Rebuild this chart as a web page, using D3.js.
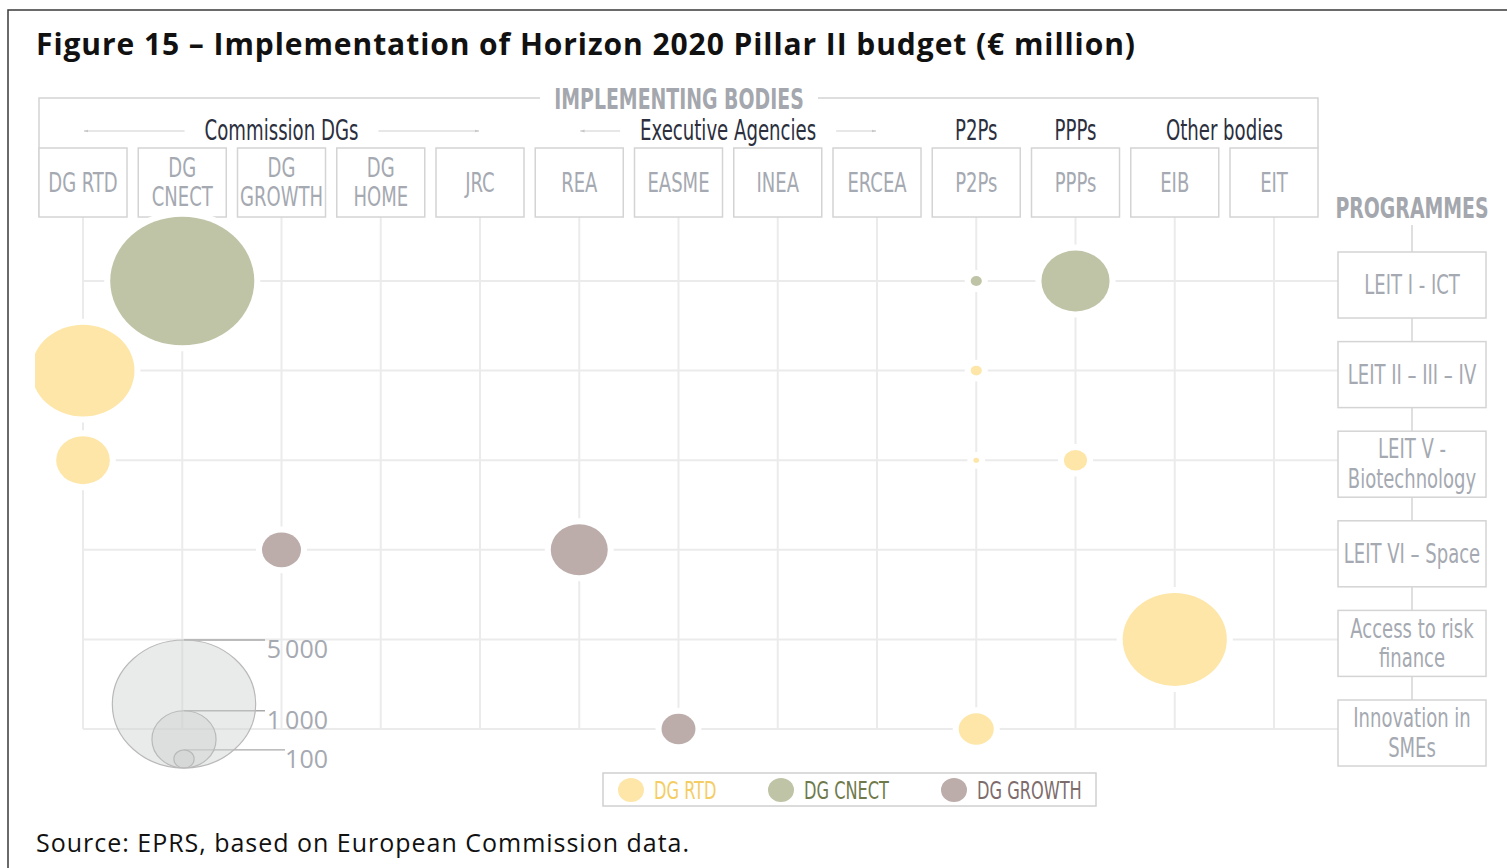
<!DOCTYPE html>
<html>
<head>
<meta charset="utf-8">
<script src="https://cdn.jsdelivr.net/npm/d3@7"></script>
<style>
  body { margin: 0; background: #fff; }
  svg { display: block; }
</style>
</head>
<body>
<svg id="chart" width="1507" height="868"></svg>
<script>
/* Horizon 2020 Pillar II budget by programme and implementing body */

// column headers (implementing bodies)
var bodies = [["DG RTD"], ["DG", "CNECT"], ["DG", "GROWTH"], ["DG", "HOME"], ["JRC"],
    ["REA"], ["EASME"], ["INEA"], ["ERCEA"], ["P2Ps"], ["PPPs"], ["EIB"], ["EIT"]];
var groupNames = ["Commission DGs", "Executive Agencies", "P2Ps", "PPPs", "Other bodies"];
var groupFirst = [0, 5, 9, 10, 11];
var groupLast = [4, 8, 9, 10, 12];

// row headers (programmes)
var programmes = [["LEIT I - ICT"], ["LEIT II \u2013 III \u2013 IV"], ["LEIT V -", "Biotechnology"],
    ["LEIT VI \u2013 Space"], ["Access to risk", "finance"], ["Innovation in", "SMEs"]];

// bubbles: programme row, body column, managing DG, € million
var budgetRow   = [0, 0, 0, 1, 1, 2, 2, 2, 3, 3, 4, 5, 5];
var budgetCol   = [1, 9, 10, 0, 9, 0, 9, 10, 2, 5, 11, 6, 9];
var budgetDG    = ["DG CNECT", "DG CNECT", "DG CNECT", "DG RTD", "DG RTD", "DG RTD", "DG RTD",
                   "DG RTD", "DG GROWTH", "DG GROWTH", "DG RTD", "DG GROWTH", "DG RTD"];
var budgetValue = [5050, 30, 1130, 2580, 30, 700, 8, 130, 370, 790, 2640, 280, 300];

var dgNames = ["DG RTD", "DG CNECT", "DG GROWTH"];
var sizeLegend = [5000, 1000, 100];

var dgFill = {"DG RTD": "#fde6a8", "DG CNECT": "#bfc4a6", "DG GROWTH": "#bcadab"};
var dgText = {"DG RTD": "#f4cd63", "DG CNECT": "#6f7a4c", "DG GROWTH": "#7d6c6c"};

var width = 1507, height = 868;
var condensed = "'Liberation Sans Narrow', 'DejaVu Sans Condensed', Roboto, sans-serif";
var sx = 0.72;          // horizontal squeeze to mimic a condensed face
var boxGrey = "#a5a9b1";
var lineGrey = "#ebebeb";
var boxStroke = "#d4d4d4";

var svg = d3.select("#chart");
svg.append("rect").attr("width", width).attr("height", height).attr("fill", "#fff");

var x = d3.scalePoint().domain(d3.range(bodies.length)).range([83, 1274]);
var y = d3.scalePoint().domain(d3.range(programmes.length)).range([281, 729]);
var r = d3.scaleSqrt().domain([0, 5000]).range([0, 64]);
var stretch = 1.12;     // bubbles are slightly wider than tall in the source

function condText(g, cx, cy, str, size, fill, weight, anchor, squeeze) {
    return g.append("text")
        .attr("transform", "translate(" + cx + "," + cy + ") scale(" + (squeeze || sx) + ",1)")
        .attr("text-anchor", anchor || "middle")
        .attr("font-family", condensed)
        .attr("font-size", size)
        .attr("font-weight", weight || "normal")
        .attr("fill", fill)
        .text(str);
}

// stretch a line of text to the width it has in the source
function fitWidth(sel, w) {
    var len = sel.node().getComputedTextLength();
    if (len < w) sel.attr("textLength", w).attr("lengthAdjust", "spacing");
    return sel;
}

// frame
svg.append("path")
    .attr("d", "M8," + height + "V10H" + width)
    .attr("fill", "none").attr("stroke", "#3a3a3a").attr("stroke-width", 1.5);

// title
fitWidth(svg.append("text")
    .attr("x", 36).attr("y", 55)
    .attr("font-family", "'Open Sans', sans-serif")
    .attr("font-size", 30).attr("font-weight", "bold")
    .attr("fill", "#111")
    .text("Figure 15 \u2013 Implementation of Horizon 2020 Pillar II budget (\u20ac million)"), 1099);

// source
fitWidth(svg.append("text")
    .attr("x", 36).attr("y", 852)
    .attr("font-family", "'Open Sans', sans-serif")
    .attr("font-size", 25)
    .attr("fill", "#111")
    .text("Source: EPRS, based on European Commission data."), 653);

/* grid */
var grid = svg.append("g");
var boxW = 88, boxTop = 148, boxBottom = 217;
var progLeft = 1338, progW = 148, progH = 66;
var cellFont = 26, cellSqueeze = 0.77, cellLead = 29.5;

grid.selectAll("line.v")
    .data(d3.range(bodies.length))
    .join("line")
    .attr("x1", d => x(d)).attr("x2", d => x(d))
    .attr("y1", boxBottom).attr("y2", y(programmes.length - 1))
    .attr("stroke", lineGrey).attr("stroke-width", 2);

grid.selectAll("line.h")
    .data(d3.range(programmes.length))
    .join("line")
    .attr("x1", x(0)).attr("x2", progLeft)
    .attr("y1", d => y(d)).attr("y2", d => y(d))
    .attr("stroke", lineGrey).attr("stroke-width", 2);

/* header: implementing bodies */
var head = svg.append("g");
head.append("path")
    .attr("d", "M540,98H39V" + boxBottom + "M818,98H1318V" + boxTop)
    .attr("fill", "none").attr("stroke", boxStroke).attr("stroke-width", 1.5);
condText(svg, 679, 109, "IMPLEMENTING BODIES", 28, "#a4a7ad", "bold", "middle", 0.75);

var cols = head.selectAll("g.body")
    .data(bodies)
    .join("g")
    .attr("class", "body");
cols.append("rect")
    .attr("x", (d, i) => x(i) - boxW / 2).attr("y", boxTop)
    .attr("width", boxW).attr("height", boxBottom - boxTop)
    .attr("fill", "#fff").attr("stroke", boxStroke).attr("stroke-width", 1.5);
cols.each(function(d, i) {
    var g = d3.select(this);
    var cy = (boxTop + boxBottom) / 2;
    d.forEach(function(line, k) {
        condText(g, x(i), cy + 9 + (k - (d.length - 1) / 2) * cellLead, line,
            cellFont, boxGrey, "normal", "middle", cellSqueeze);
    });
});

// group labels with arrows
var arrowDefs = svg.append("defs");
arrowDefs.append("marker")
    .attr("id", "arr")
    .attr("viewBox", "0 0 10 10").attr("refX", 9).attr("refY", 5)
    .attr("markerWidth", 4).attr("markerHeight", 4).attr("orient", "auto")
    .append("path").attr("d", "M0,2L10,5L0,8Z").attr("fill", "#c8c8c8");

groupNames.forEach(function(name, gi) {
    var a = x(groupFirst[gi]), b = x(groupLast[gi]);
    var mid = (a + b) / 2;
    var t = condText(head, mid, 140, name, 28, "#2b2f3e");
    if (groupFirst[gi] == groupLast[gi] || name == "Other bodies") return;
    var half = t.node().getComputedTextLength() * sx / 2 + 20;
    head.append("line")
        .attr("x1", mid - half).attr("x2", a + 1).attr("y1", 131).attr("y2", 131)
        .attr("stroke", "#d0d0d0").attr("stroke-width", 1.2)
        .attr("marker-end", "url(#arr)");
    head.append("line")
        .attr("x1", mid + half).attr("x2", b - 1).attr("y1", 131).attr("y2", 131)
        .attr("stroke", "#d0d0d0").attr("stroke-width", 1.2)
        .attr("marker-end", "url(#arr)");
});

/* programmes column */
var prog = svg.append("g");
var progX = progLeft + progW / 2;
prog.append("line")
    .attr("x1", progX).attr("x2", progX)
    .attr("y1", 225).attr("y2", y(programmes.length - 1))
    .attr("stroke", boxStroke).attr("stroke-width", 1.5);
condText(prog, progX, 218, "PROGRAMMES", 28, "#a4a7ad", "bold", "middle", 0.75);

var rows = prog.selectAll("g.prog")
    .data(programmes)
    .join("g")
    .attr("class", "prog");
rows.append("rect")
    .attr("x", progLeft).attr("y", (d, i) => y(i) + 4 - progH / 2)
    .attr("width", progW).attr("height", progH)
    .attr("fill", "#fff").attr("stroke", boxStroke).attr("stroke-width", 1.5);
rows.each(function(d, i) {
    var g = d3.select(this);
    d.forEach(function(line, k) {
        condText(g, progX, y(i) + 4 + 9 + (k - (d.length - 1) / 2) * cellLead, line,
            cellFont, boxGrey, "normal", "middle", cellSqueeze);
    });
});

/* size legend */
var sl = svg.append("g");
var slX = 184, slBottom = 768;
sl.selectAll("line")
    .data(sizeLegend)
    .join("line")
    .attr("x1", slX).attr("x2", d => d == 100 ? 285 : 265)
    .attr("y1", d => slBottom - 2 * r(d)).attr("y2", d => slBottom - 2 * r(d))
    .attr("stroke", "#a9a9a9").attr("stroke-width", 1.3);
sl.selectAll("ellipse")
    .data(sizeLegend)
    .join("ellipse")
    .attr("cx", slX)
    .attr("cy", d => slBottom - r(d))
    .attr("rx", d => r(d) * stretch).attr("ry", d => r(d))
    .attr("fill", "#cfd1d1").attr("fill-opacity", 0.45)
    .attr("stroke", "#b9b9b9").attr("stroke-width", 1.2);
sl.selectAll("text")
    .data(sizeLegend)
    .join("text")
    .attr("x", 328)
    .attr("y", d => slBottom - 2 * r(d) + 18)
    .attr("text-anchor", "end")
    .attr("font-family", "'Open Sans', sans-serif")
    .attr("font-size", 25)
    .attr("fill", "#a5a9b1")
    .text(d => d3.format(",")(d).replace(",", "\u2009"));

/* bubbles */
svg.append("clipPath").attr("id", "clip")
    .append("rect").attr("x", 35).attr("y", 0).attr("width", width).attr("height", height);

var bubbles = svg.append("g").attr("clip-path", "url(#clip)");
var idx = d3.range(budgetValue.length);
bubbles.selectAll("ellipse.halo")
    .data(idx)
    .join("ellipse")
    .attr("class", "halo")
    .attr("cx", i => x(budgetCol[i])).attr("cy", i => y(budgetRow[i]))
    .attr("rx", i => r(budgetValue[i]) * stretch + 6).attr("ry", i => r(budgetValue[i]) + 6)
    .attr("fill", "#fff");
bubbles.selectAll("ellipse.dot")
    .data(idx)
    .join("ellipse")
    .attr("class", "dot")
    .attr("cx", i => x(budgetCol[i])).attr("cy", i => y(budgetRow[i]))
    .attr("rx", i => r(budgetValue[i]) * stretch).attr("ry", i => r(budgetValue[i]))
    .attr("fill", i => dgFill[budgetDG[i]]);

/* colour legend */
var lg = svg.append("g");
lg.append("rect")
    .attr("x", 603).attr("y", 773).attr("width", 493).attr("height", 33)
    .attr("fill", "#fff").attr("stroke", "#d0d0d0").attr("stroke-width", 1.5);
var lgX = d3.scaleOrdinal().domain(dgNames).range([631, 781, 954]);
lg.selectAll("ellipse")
    .data(dgNames)
    .join("ellipse")
    .attr("cx", d => lgX(d)).attr("cy", 790)
    .attr("rx", 13).attr("ry", 12)
    .attr("fill", d => dgFill[d]);
lg.selectAll("g.lab")
    .data(dgNames)
    .join("g")
    .attr("class", "lab")
    .each(function(d) {
        condText(d3.select(this), lgX(d) + 23, 799, d, 25, dgText[d], "normal", "start");
    });
</script>
</body>
</html>
